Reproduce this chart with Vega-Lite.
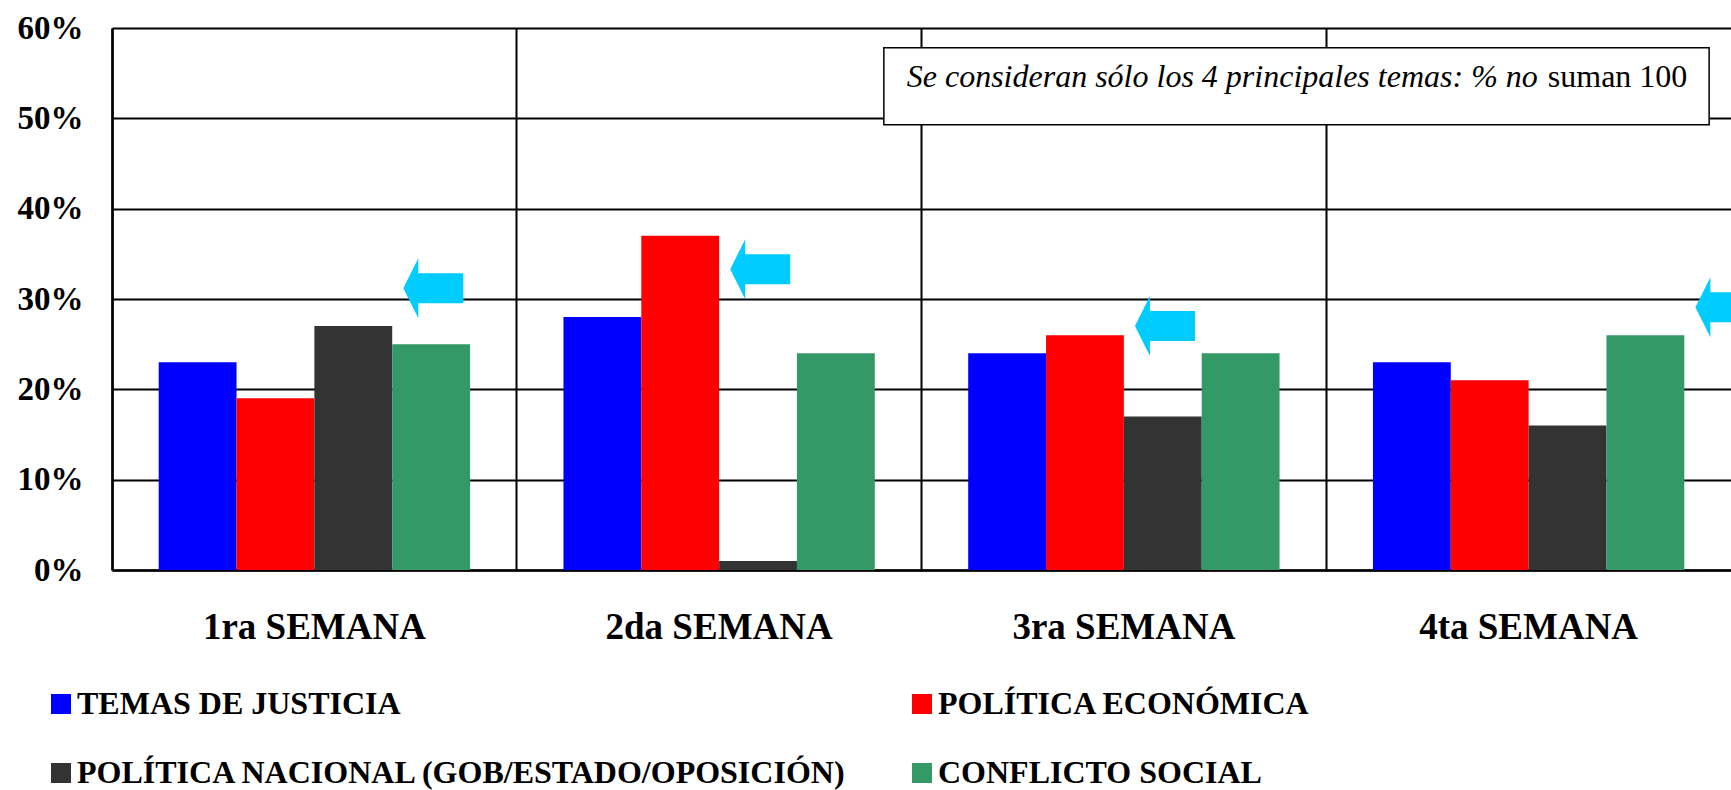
{
  "$schema": "https://vega.github.io/schema/vega-lite/v6.json",
  "width": 1619,
  "height": 542,
  "autosize": {"type": "none"},
  "padding": {"left": 112, "top": 28, "right": 0, "bottom": 220},
  "background": "white",
  "config": {"view": {"stroke": null}, "font": "Liberation Serif"},
  "layer": [
    {
      "layer": [
        {
          "data": {"values": [
            {"semana": "1ra SEMANA", "tema": "TEMAS DE JUSTICIA", "valor": 23},
            {"semana": "1ra SEMANA", "tema": "POLÍTICA ECONÓMICA", "valor": 19},
            {"semana": "1ra SEMANA", "tema": "POLÍTICA NACIONAL (GOB/ESTADO/OPOSICIÓN)", "valor": 27},
            {"semana": "1ra SEMANA", "tema": "CONFLICTO SOCIAL", "valor": 25},
            {"semana": "2da SEMANA", "tema": "TEMAS DE JUSTICIA", "valor": 28},
            {"semana": "2da SEMANA", "tema": "POLÍTICA ECONÓMICA", "valor": 37},
            {"semana": "2da SEMANA", "tema": "POLÍTICA NACIONAL (GOB/ESTADO/OPOSICIÓN)", "valor": 1},
            {"semana": "2da SEMANA", "tema": "CONFLICTO SOCIAL", "valor": 24},
            {"semana": "3ra SEMANA", "tema": "TEMAS DE JUSTICIA", "valor": 24},
            {"semana": "3ra SEMANA", "tema": "POLÍTICA ECONÓMICA", "valor": 26},
            {"semana": "3ra SEMANA", "tema": "POLÍTICA NACIONAL (GOB/ESTADO/OPOSICIÓN)", "valor": 17},
            {"semana": "3ra SEMANA", "tema": "CONFLICTO SOCIAL", "valor": 24},
            {"semana": "4ta SEMANA", "tema": "TEMAS DE JUSTICIA", "valor": 23},
            {"semana": "4ta SEMANA", "tema": "POLÍTICA ECONÓMICA", "valor": 21},
            {"semana": "4ta SEMANA", "tema": "POLÍTICA NACIONAL (GOB/ESTADO/OPOSICIÓN)", "valor": 16},
            {"semana": "4ta SEMANA", "tema": "CONFLICTO SOCIAL", "valor": 26}
          ]},
          "mark": {"type": "bar"},
          "encoding": {
            "x": {
              "field": "semana", "type": "nominal", "title": null,
              "scale": {"domain": ["1ra SEMANA", "2da SEMANA", "3ra SEMANA", "4ta SEMANA"], "paddingInner": 0, "paddingOuter": 0},
              "axis": {
                "bandPosition": 0, "grid": true, "gridColor": "black", "gridWidth": 2, "gridOpacity": 1,
                "ticks": false, "tickSize": 0, "domain": true, "domainColor": "black", "domainWidth": 2.5,
                "labelFont": "Liberation Serif", "labelFontWeight": "bold", "labelFontSize": 37, "labelColor": "black",
                "labelPadding": 39, "labelAngle": 0, "labelLimit": 1000
              }
            },
            "xOffset": {
              "field": "tema", "type": "nominal",
              "scale": {"domain": ["TEMAS DE JUSTICIA", "POLÍTICA ECONÓMICA", "POLÍTICA NACIONAL (GOB/ESTADO/OPOSICIÓN)", "CONFLICTO SOCIAL"], "paddingInner": 0, "paddingOuter": 0.6}
            },
            "y": {
              "field": "valor", "type": "quantitative", "title": null,
              "scale": {"domain": [0, 60], "nice": false},
              "axis": {
                "values": [0, 10, 20, 30, 40, 50, 60], "labelExpr": "datum.value + '%'",
                "grid": true, "gridColor": "black", "gridWidth": 2, "gridOpacity": 1,
                "ticks": false, "tickSize": 0, "domain": true, "domainColor": "black", "domainWidth": 2.5,
                "labelFont": "Liberation Serif", "labelFontWeight": "bold", "labelFontSize": 33, "labelColor": "black",
                "labelPadding": 29
              }
            },
            "color": {
              "field": "tema", "type": "nominal",
              "scale": {
                "domain": ["TEMAS DE JUSTICIA", "POLÍTICA NACIONAL (GOB/ESTADO/OPOSICIÓN)", "POLÍTICA ECONÓMICA", "CONFLICTO SOCIAL"],
                "range": ["#0000FF", "#333333", "#FF0000", "#339966"]
              },
              "legend": {
                "title": null, "orient": "none", "legendX": -67, "legendY": 660, "columns": 2,
                "columnPadding": 57, "rowPadding": 37, "padding": 0,
                "symbolType": "square", "symbolSize": 400, "symbolStrokeWidth": 0, "symbolOpacity": 1,
                "labelFont": "Liberation Serif", "labelFontWeight": "bold", "labelFontSize": 32, "labelColor": "black",
                "labelOffset": 0, "labelLimit": 2000
              }
            }
          }
        },
        {
          "data": {"values": [
            {"semana": "1ra SEMANA", "tema": "POLÍTICA NACIONAL (GOB/ESTADO/OPOSICIÓN)", "nivel": 31.2},
            {"semana": "2da SEMANA", "tema": "POLÍTICA ECONÓMICA", "nivel": 33.3},
            {"semana": "3ra SEMANA", "tema": "POLÍTICA ECONÓMICA", "nivel": 27.0},
            {"semana": "4ta SEMANA", "tema": "CONFLICTO SOCIAL", "nivel": 29.1}
          ]},
          "mark": {
            "type": "point", "shape": "M1.667,0L2.167,-1L2.167,-0.5L3.667,-0.5L3.667,0.5L2.167,0.5L2.167,1Z",
            "size": 3600, "filled": true, "color": "#00CCFF", "opacity": 1, "strokeWidth": 0
          },
          "encoding": {
            "x": {"field": "semana", "type": "nominal"},
            "xOffset": {"field": "tema", "type": "nominal"},
            "y": {"field": "nivel", "type": "quantitative"}
          }
        }
      ]
    },
    {
      "data": {"values": [{}]},
      "layer": [
        {
          "mark": {"type": "rect", "fill": "white", "stroke": "black", "strokeWidth": 1.5},
          "encoding": {
            "x": {"datum": 1.907, "type": "quantitative", "scale": {"domain": [0, 4], "nice": false, "zero": false}, "axis": null},
            "x2": {"datum": 3.946},
            "y": {"datum": 49.3, "type": "quantitative"},
            "y2": {"datum": 57.8}
          }
        },
        {
          "mark": {"type": "text", "text": "Se consideran sólo los 4 principales temas: % no", "align": "right", "baseline": "alphabetic",
                   "font": "Liberation Serif", "fontStyle": "italic", "fontSize": 32, "color": "black", "dx": -5},
          "encoding": {
            "x": {"datum": 3.535, "type": "quantitative", "axis": null},
            "y": {"datum": 53.47, "type": "quantitative"}
          }
        },
        {
          "mark": {"type": "text", "text": "suman 100", "align": "left", "baseline": "alphabetic",
                   "font": "Liberation Serif", "fontSize": 32, "color": "black", "dx": 5},
          "encoding": {
            "x": {"datum": 3.535, "type": "quantitative", "axis": null},
            "y": {"datum": 53.47, "type": "quantitative"}
          }
        }
      ]
    }
  ],
  "resolve": {"scale": {"x": "independent"}}
}
